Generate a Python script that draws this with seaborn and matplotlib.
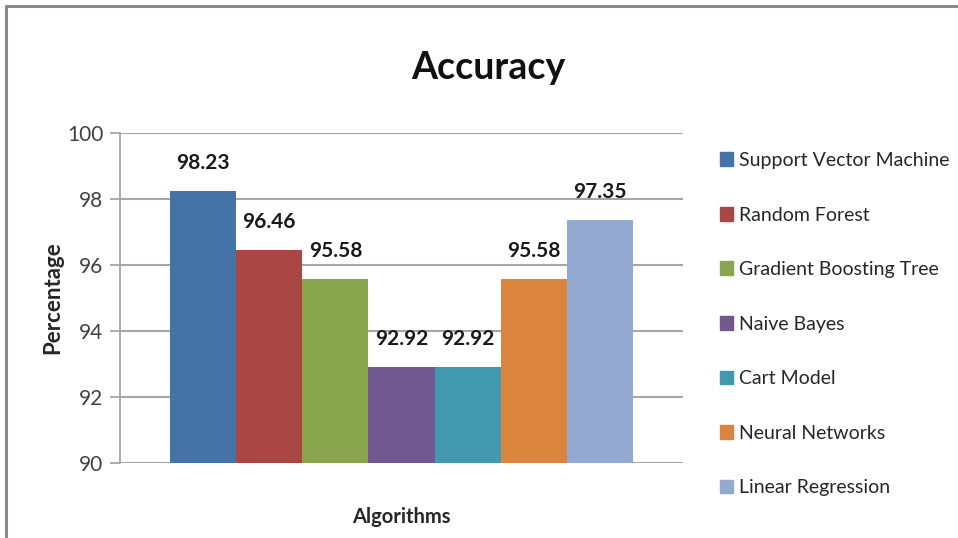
import matplotlib
matplotlib.use("Agg")
import matplotlib.pyplot as plt
from matplotlib.lines import Line2D
import seaborn as sns
import pandas as pd

algorithms = ["Support Vector Machine", "Random Forest", "Gradient Boosting Tree",
              "Naive Bayes", "Cart Model", "Neural Networks", "Linear Regression"]
accuracy = [98.23, 96.46, 95.58, 92.92, 92.92, 95.58, 97.35]
colors = ["#4572A7", "#AA4643", "#89A54E", "#71588F", "#4198AF", "#DB843D", "#93A9CF"]
yticks = [90, 92, 94, 96, 98, 100]

df = pd.DataFrame({"group": ["Algorithms"] * len(algorithms),
                   "Algorithm": algorithms, "Accuracy": accuracy})

sns.set_theme(style="white")
plt.rcParams["font.family"] = ["Lato", "DejaVu Sans"]

fig = plt.figure(figsize=(9.58, 5.38), dpi=100)
ax = fig.add_axes([0.1253, 0.1394, 0.5877, 0.6134])

sns.barplot(data=df, x="group", y="Accuracy", hue="Algorithm",
            palette=colors, width=0.822, saturation=1, ax=ax,
            legend=False, zorder=3, linewidth=0)

ax.set_ylim(90, 100)
ax.set_xlim(-0.5, 0.5)
ax.set_yticks(yticks)
ax.set_yticklabels([str(t) for t in yticks], fontsize=15, color="#404040")
ax.set_xticks([])
for t in yticks:
    ax.axhline(t, color="#a6a6a6", lw=1.5, zorder=1)
ax.tick_params(axis="y", length=7, width=1.3, color="#a6a6a6", pad=5, left=True)
for s in ["top", "right", "bottom"]:
    ax.spines[s].set_visible(False)
ax.spines["left"].set_color("#a6a6a6")
ax.spines["left"].set_linewidth(1.3)

for bar, val in zip(ax.patches, accuracy):
    ax.annotate(f"{val:.2f}", (bar.get_x() + bar.get_width() / 2, val),
                xytext=(0, 13), textcoords="offset points",
                ha="center", va="bottom", fontsize=15, fontweight="bold",
                color="#1a1a1a")

ax.set_ylabel("Percentage", fontsize=16, fontweight="bold", labelpad=3)
ax.set_xlabel("Algorithms", fontsize=14.5, fontweight="bold", labelpad=32)

fig.text(0.51, 0.873, "Accuracy", ha="center", va="center",
         fontsize=27, fontweight="bold", color="#111111")

# legend on the right, one entry per algorithm
handles = [plt.Rectangle((0, 0), 1, 1, color=c) for c in colors]
fig.legend(handles, algorithms, loc="upper left", bbox_to_anchor=(0.733, 0.75),
           frameon=False, fontsize=14, handlelength=0.7, handleheight=0.7,
           handletextpad=0.3, labelspacing=1.93)

# outer frame lines
fig.add_artist(Line2D([0.006, 1.0], [0.988, 0.988], color="#8a8a8a", lw=2.2,
                      transform=fig.transFigure))
fig.add_artist(Line2D([0.006, 0.006], [0.0, 0.988], color="#8a8a8a", lw=2.2,
                      transform=fig.transFigure))

fig.savefig("out.png", dpi=100)
